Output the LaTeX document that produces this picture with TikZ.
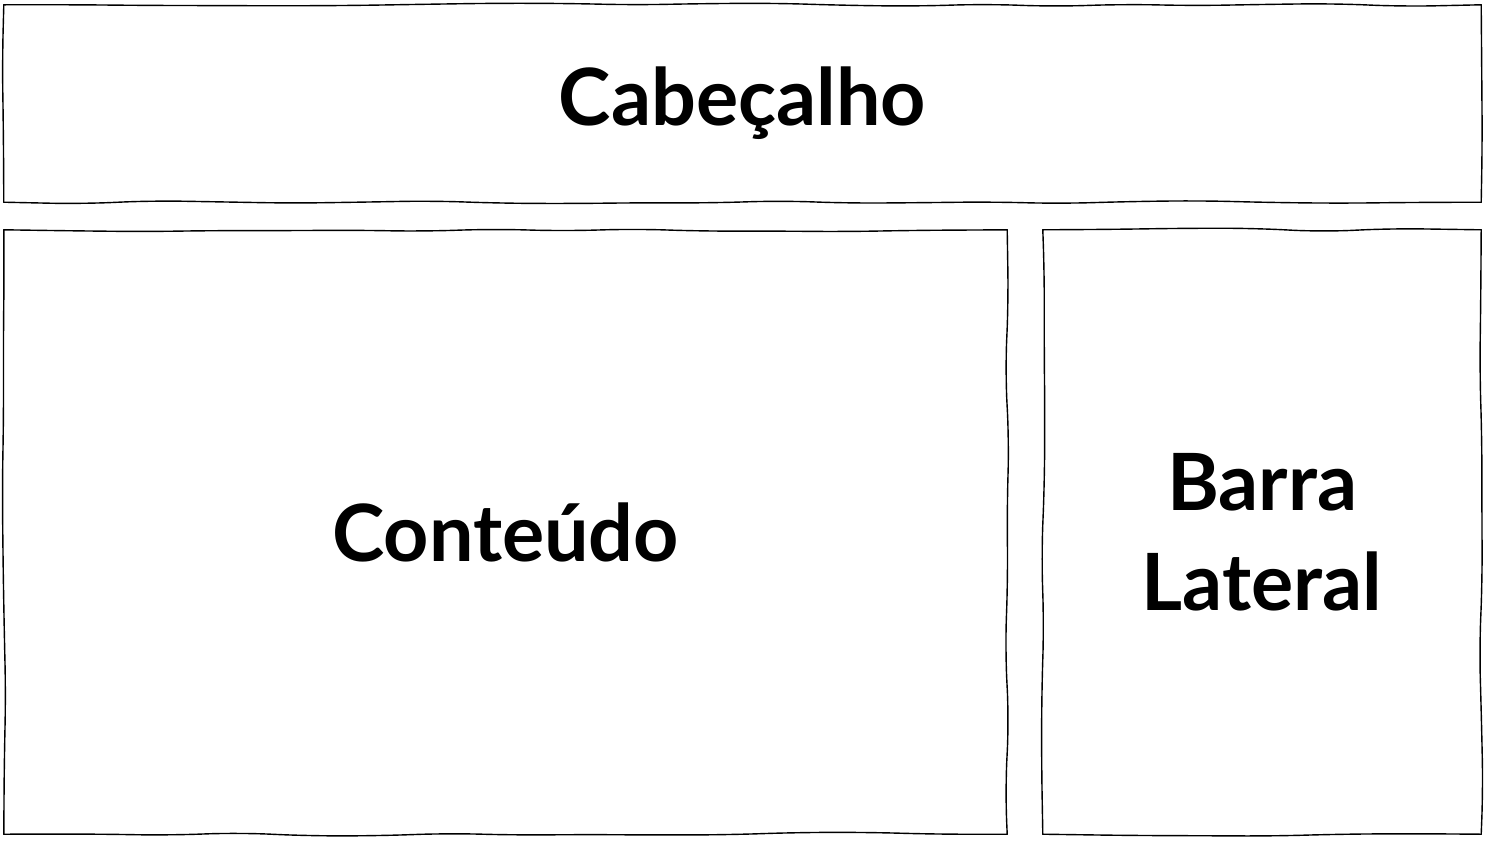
\documentclass[tikz,border=0pt]{standalone}
\usepackage{fontspec}
\setmainfont{Lato}
\usetikzlibrary{decorations.pathmorphing}
\begin{document}
\begin{tikzpicture}[x=1pt,y=-1pt,
  boxarea/.style={rectangle, inner sep=0pt,
    font=\bfseries\fontsize{79}{100}\selectfont, align=center},
  wob/.style={line width=1.4pt, line cap=round, line join=round,
    decorate, decoration={random steps, segment length=70pt, amplitude=2pt},
    rounded corners=30pt}]
\pgfmathsetseed{11}
\useasboundingbox[fill=white] (0,0) rectangle (1486,841);
\node[boxarea, minimum width=1477pt, minimum height=197pt] (cab) at (742.5,103.5) {Cabeçalho};
\node[boxarea, minimum width=1003pt, minimum height=604pt] (cont) at (505.5,532) {Conteúdo};
\node[boxarea, minimum width=438pt, minimum height=604pt] (barra) at (1262,532) {Barra\\Lateral};
\foreach \n in {cab,cont,barra}{
  \draw[wob] (\n.north west) -- (\n.north east);
  \draw[wob] (\n.north east) -- (\n.south east);
  \draw[wob] (\n.south east) -- (\n.south west);
  \draw[wob] (\n.south west) -- (\n.north west);
}
\end{tikzpicture}
\end{document}
